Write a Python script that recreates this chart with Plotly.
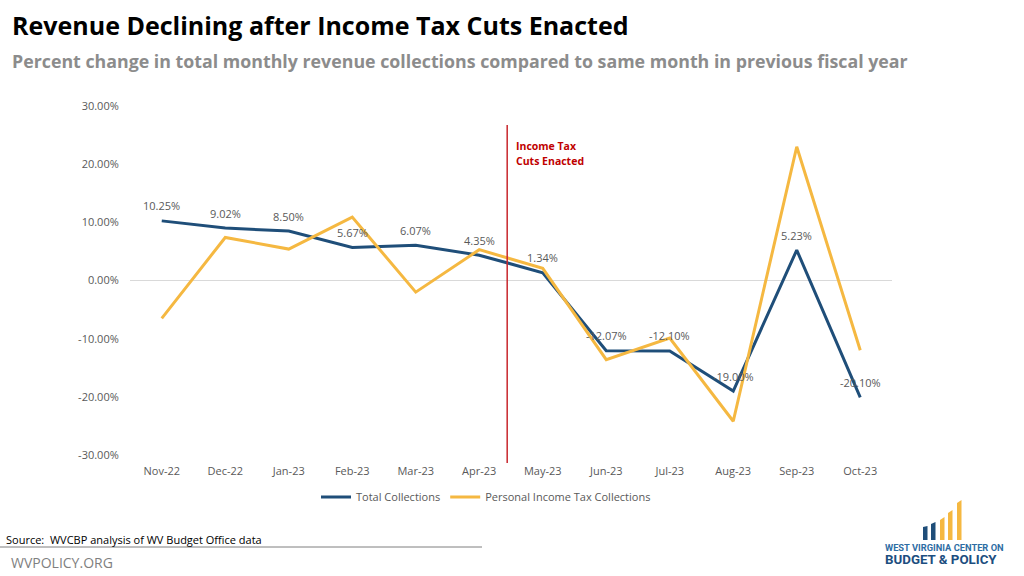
import plotly.graph_objects as go

months = ["Nov-22", "Dec-22", "Jan-23", "Feb-23", "Mar-23", "Apr-23",
          "May-23", "Jun-23", "Jul-23", "Aug-23", "Sep-23", "Oct-23"]
total_collections = [10.25, 9.02, 8.50, 5.67, 6.07, 4.35, 1.34, -12.07, -12.10, -19.00, 5.23, -20.10]
pit_collections = [-6.5, 7.4, 5.4, 10.9, -2.0, 5.3, 2.1, -13.6, -9.9, -24.2, 23.0, -12.0]
y_ticks = [-30, -20, -10, 0, 10, 20, 30]

BLUE = "#1F4E79"
GOLD = "#F5B841"
GRAY = "#595959"
RED = "#C00000"

W, H = 1024, 576
L, R, T, B = 130, 132, 106, 121
PW, PH = W - L - R, H - T - B


def px(x):
    return (x - L) / PW


def py(y):
    return (H - B - y) / PH


fig = go.Figure()
fig.add_trace(go.Scatter(x=months, y=total_collections, mode="lines", name="Total Collections",
                         line=dict(color=BLUE, width=3)))
fig.add_trace(go.Scatter(x=months, y=pit_collections, mode="lines", name="Personal Income Tax Collections",
                         line=dict(color=GOLD, width=3)))

annotations = []
for m, v in zip(months, total_collections):
    annotations.append(dict(x=m, y=v, xref="x", yref="y", text=f"{v:.2f}%", showarrow=False,
                            yshift=15, font=dict(family="Open Sans", size=11, color=GRAY)))

# Policy marker
annotations.append(dict(x=px(514), y=py(146), xref="paper", yref="paper", xanchor="left", yanchor="middle",
                        text="<b>Income Tax</b>", showarrow=False,
                        font=dict(family="Open Sans", size=10.5, color=RED)))
annotations.append(dict(x=px(514), y=py(161), xref="paper", yref="paper", xanchor="left", yanchor="middle",
                        text="<b>Cuts Enacted</b>", showarrow=False,
                        font=dict(family="Open Sans", size=10.5, color=RED)))

# Titles
annotations.append(dict(x=px(10), y=py(25), xref="paper", yref="paper", xanchor="left", yanchor="middle",
                        text="<b>Revenue Declining after Income Tax Cuts Enacted</b>", showarrow=False,
                        font=dict(family="Open Sans", size=25, color="#000000")))
annotations.append(dict(x=px(10), y=py(61), xref="paper", yref="paper", xanchor="left", yanchor="middle",
                        text="<b>Percent change in total monthly revenue collections compared to same month in previous fiscal year</b>",
                        showarrow=False, font=dict(family="Open Sans", size=17.8, color="#8C8C8C")))

# Footer
annotations.append(dict(x=px(4), y=py(539), xref="paper", yref="paper", xanchor="left", yanchor="middle",
                        text="Source:  WVCBP analysis of WV Budget Office data", showarrow=False,
                        font=dict(family="Open Sans", size=11, color="#000000")))
annotations.append(dict(x=px(9), y=py(562), xref="paper", yref="paper", xanchor="left", yanchor="middle",
                        text="WVPOLICY.ORG", showarrow=False,
                        font=dict(family="Open Sans", size=14, color="#7F7F7F")))

# Logo text
annotations.append(dict(x=px(944), y=py(547), xref="paper", yref="paper", xanchor="center", yanchor="middle",
                        text="<b>WEST VIRGINIA CENTER ON</b>", showarrow=False,
                        font=dict(family="Roboto", size=9.3, color="#2E6DA4")))
annotations.append(dict(x=px(941), y=py(559), xref="paper", yref="paper", xanchor="center", yanchor="middle",
                        text="<b>BUDGET &amp; POLICY</b>", showarrow=False,
                        font=dict(family="Roboto", size=13.3, color="#1C4E80")))

shapes = []
# vertical red line
shapes.append(dict(type="line", xref="x", yref="paper", x0=5.44, x1=5.44, y0=py(463), y1=py(125),
                   line=dict(color="#C8262C", width=1.5), layer="above"))
# source separator
shapes.append(dict(type="line", xref="paper", yref="paper", x0=px(0), x1=px(482), y0=py(547), y1=py(547),
                   line=dict(color="#7F7F7F", width=1)))
# logo bars (decoration)
bars = [(923, 927.5, 527, 526, BLUE), (931, 935.5, 524, 522, BLUE), (940, 944.5, 520, 517, GOLD),
        (948, 952.5, 513, 510, GOLD), (957, 961.5, 503, 500, GOLD)]
for x0, x1, t0, t1, c in bars:
    path = f"M {px(x0)} {py(540)} L {px(x1)} {py(540)} L {px(x1)} {py(t1)} L {px(x0)} {py(t0)} Z"
    shapes.append(dict(type="path", xref="paper", yref="paper", path=path, fillcolor=c,
                       line=dict(width=0)))

fig.update_layout(
    width=W, height=H,
    margin=dict(l=L, r=R, t=T, b=B),
    paper_bgcolor="white", plot_bgcolor="white",
    showlegend=True,
    legend=dict(orientation="h", x=px(486), xanchor="center", y=py(497), yanchor="middle",
                font=dict(family="Open Sans", size=11, color=GRAY), bgcolor="rgba(0,0,0,0)",
                itemwidth=30),
    annotations=annotations,
    shapes=shapes,
    xaxis=dict(type="category", range=[-0.5, 11.5], showgrid=False, showline=False, zeroline=False,
               ticks="outside", ticklen=6, tickcolor="rgba(0,0,0,0)",
               tickfont=dict(family="Open Sans", size=11, color=GRAY), fixedrange=True),
    yaxis=dict(range=[-30, 30], tickvals=y_ticks, ticktext=[f"{v:.2f}%" for v in y_ticks],
               showgrid=False, zeroline=True, zerolinecolor="#D9D9D9", zerolinewidth=1,
               showline=False, ticks="outside", ticklen=8, tickcolor="rgba(0,0,0,0)",
               tickfont=dict(family="Open Sans", size=11, color=GRAY), fixedrange=True),
)

fig.write_html("out.html", config={"displayModeBar": False},
               post_script="document.body.style.margin='0';document.body.style.overflow='hidden';")
